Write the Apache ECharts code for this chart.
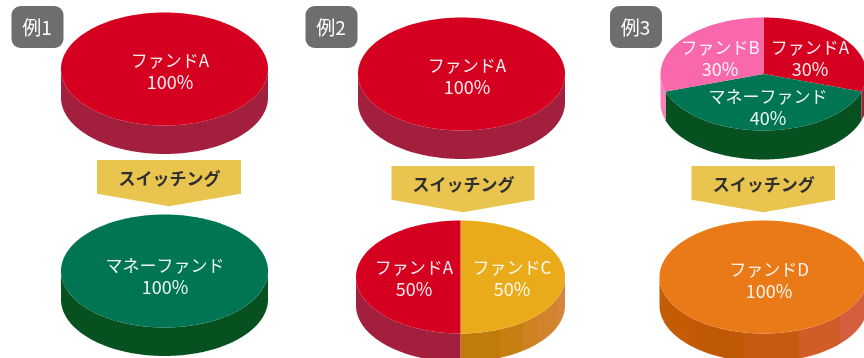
<!DOCTYPE html>
<html>
<head>
<meta charset="utf-8">
<style>html,body{margin:0;padding:0;background:#fff}#chart{width:864px;height:358px}</style>
<script src="https://cdn.jsdelivr.net/npm/echarts@6/dist/echarts.min.js"></script>
</head>
<body>
<div id="chart"></div>
<script>
// Allocation before and after each switch; slices run clockwise from 12 o'clock.
const exampleLabels = ['例1', '例2', '例3'];
const switchLabel = 'スイッチング';

const ex1BeforeFunds = ['ファンドA'];
const ex1BeforeShares = [100];
const ex1AfterFunds = ['マネーファンド'];
const ex1AfterShares = [100];
const ex2BeforeFunds = ['ファンドA'];
const ex2BeforeShares = [100];
const ex2AfterFunds = ['ファンドC', 'ファンドA'];
const ex2AfterShares = [50, 50];
const ex3BeforeFunds = ['ファンドA', 'マネーファンド', 'ファンドB'];
const ex3BeforeShares = [30, 40, 30];
const ex3AfterFunds = ['ファンドD'];
const ex3AfterShares = [100];

const pieFunds = [ex1BeforeFunds, ex1AfterFunds, ex2BeforeFunds, ex2AfterFunds, ex3BeforeFunds, ex3AfterFunds];
const pieShares = [ex1BeforeShares, ex1AfterShares, ex2BeforeShares, ex2AfterShares, ex3BeforeShares, ex3AfterShares];

// Disc geometry, in pie order.
const pieGeometry = [
  { cx: 164.5, cy: 69, rx: 103.5, ry: 56.5, depth: 28.5 },
  { cx: 164.5, cy: 271, rx: 103.5, ry: 56.5, depth: 28.5 },
  { cx: 461.5, cy: 74, rx: 103.5, ry: 56.5, depth: 28.5 },
  { cx: 460.5, cy: 277, rx: 104.5, ry: 56.5, depth: 28.5 },
  { cx: 763.5, cy: 74, rx: 103, ry: 56.5, depth: 29 },
  { cx: 763.5, cy: 277, rx: 104, ry: 56.5, depth: 28.5 }
];

// Centre of each two-line slice label, by pie then slice.
const labelCentres = [
  [[170, 72]],
  [[165, 276.5]],
  [[467, 77]],
  [[512, 279], [414, 279]],
  [[810, 58.5], [768, 108], [720, 58.5]],
  [[769, 281]]
];

const fundStyles = {
  'ファンドA': { top: '#d5001f', side: '#a31f3e' },
  'ファンドB': { top: '#f868ab', side: '#fa7fbb' },
  'マネーファンド': { top: '#007553', side: '#06511f' },
  'ファンドC': {
    top: '#eaab1a',
    bands: [[0, '#c07c0a'], [0.38, '#c67f10'], [0.6, '#cc8220'], [0.73, '#d1832e'], [0.92, '#d5853e']]
  },
  'ファンドD': {
    top: '#ea7a17',
    bands: [[0, '#c45b05'], [0.18, '#bf5906'], [0.4, '#c55a10'], [0.67, '#d05c28'], [0.87, '#d45f3e']]
  }
};

const rows = [];
pieShares.forEach(function (shares, pie) {
  let start = 0;
  shares.forEach(function (share, slice) {
    rows.push([pie, slice, start, share]);
    start += share;
  });
});

function ellipsePoint(g, deg, drop) {
  const t = deg * Math.PI / 180;
  return [g.cx + g.rx * Math.sin(t), g.cy - g.ry * Math.cos(t) + (drop || 0)];
}

function sideFill(g, style) {
  if (!style.bands) return style.side;
  // Hard-edged bands across the width of the disc, lightening to the right.
  const x0 = style.bands === fundStyles['ファンドC'].bands ? g.cx : g.cx - g.rx;
  const stops = [];
  style.bands.forEach(function (b, i) {
    const next = style.bands[i + 1];
    stops.push({ offset: b[0], color: b[1] });
    stops.push({ offset: next ? next[0] : 1, color: b[1] });
  });
  return { type: 'linear', x: x0, y: 0, x2: g.cx + g.rx, y2: 0, global: true, colorStops: stops };
}

function renderSlice(params, api) {
  const pie = api.value(0), slice = api.value(1);
  const startDeg = api.value(2) * 3.6;
  const endDeg = startDeg + api.value(3) * 3.6;
  const g = pieGeometry[pie];
  const fund = pieFunds[pie][slice];
  const style = fundStyles[fund];
  const children = [];

  // Rim: only the front half of the disc is visible.
  const from = Math.max(startDeg, 90), to = Math.min(endDeg, 270);
  if (to > from) {
    const upper = [], lower = [];
    for (let d = from; d <= to + 0.001; d += 1) {
      upper.push(ellipsePoint(g, d, 0));
      lower.unshift(ellipsePoint(g, d, g.depth));
    }
    children.push({ type: 'polygon', shape: { points: upper.concat(lower) }, style: { fill: sideFill(g, style) }, z2: 1 });
  }

  // Top face.
  const face = endDeg - startDeg >= 360 ? [] : [[g.cx, g.cy]];
  for (let d = startDeg; d <= endDeg + 0.001; d += 1) face.push(ellipsePoint(g, d, 0));
  children.push({ type: 'polygon', shape: { points: face }, style: { fill: style.top }, z2: 2 });

  const c = labelCentres[pie][slice];
  const nameFont = '400 17px "Noto Sans CJK JP", sans-serif';
  const shareFont = '400 18px "Noto Sans CJK JP", sans-serif';
  children.push({ type: 'text', z2: 3, style: { text: fund, x: c[0], y: c[1] - 11, fill: 'rgba(255,255,255,0.92)', font: nameFont, align: 'center', verticalAlign: 'middle' } });
  children.push({ type: 'text', z2: 3, style: { text: api.value(3) + '%', x: c[0], y: c[1] + 10.5, fill: 'rgba(255,255,255,0.92)', font: shareFont, align: 'center', verticalAlign: 'middle' } });
  return { type: 'group', children: children };
}

// Switching arrows and example badges.
const arrowBoxes = [
  { left: 97, right: 241, top: 160, shoulder: 193.7, tip: 206.3, mid: 169 },
  { left: 391.5, right: 534.5, top: 166, shoulder: 199.7, tip: 212.3, mid: 463 },
  { left: 691.5, right: 835, top: 166, shoulder: 199.7, tip: 212.3, mid: 763.3 }
];
const badgeLefts = [11.5, 305.5, 610];

const decorations = [];
arrowBoxes.forEach(function (a) {
  decorations.push({
    type: 'polygon',
    shape: { points: [[a.left, a.top], [a.right, a.top], [a.right, a.shoulder], [a.mid, a.tip], [a.left, a.shoulder]] },
    style: { fill: '#e9c44f' }
  });
  decorations.push({
    type: 'text',
    style: { text: switchLabel, x: a.mid + 0.5, y: a.top + 18.5, fill: '#2f2f2f', font: '700 17px "Noto Sans CJK JP", sans-serif', align: 'center', verticalAlign: 'middle' }
  });
});
badgeLefts.forEach(function (left, i) {
  decorations.push({
    type: 'rect',
    shape: { x: left, y: 6, width: 52, height: 42, r: 9 },
    style: { fill: '#6e6e6e' }
  });
  decorations.push({
    type: 'text',
    style: { text: exampleLabels[i], x: left + 25.5, y: 28, fill: '#fff', font: '400 19px "Noto Sans CJK JP", sans-serif', align: 'center', verticalAlign: 'middle' }
  });
});

const chart = echarts.init(document.getElementById('chart'), null, { renderer: 'canvas' });
chart.setOption({
  animation: false,
  backgroundColor: '#fff',
  graphic: { elements: decorations },
  series: [{
    type: 'custom',
    coordinateSystem: 'none',
    renderItem: renderSlice,
    data: rows,
    silent: true
  }]
});
</script>
</body>
</html>
